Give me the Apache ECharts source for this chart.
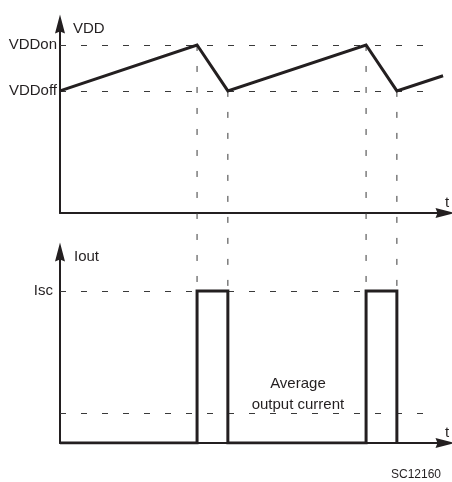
<!DOCTYPE html>
<html><head><meta charset="utf-8">
<script src="https://cdn.jsdelivr.net/npm/echarts@6/dist/echarts.min.js"></script>
<style>html,body{margin:0;padding:0;background:#fff}#c{width:452px;height:482px}</style>
</head><body><div id="c"></div>
<script>
// ---- data (time in arbitrary units 0..100, levels in arbitrary units 0..100) ----
const vddTime  = [0, 35.6, 43.6, 79.5, 87.5, 99.5];
const vddValue = [64.6, 88.9, 64.6, 88.9, 64.6, 72.6];
const vddTickValues = [64.6, 88.9];
const vddTickLabels = ['VDDoff', 'VDDon'];
const vddDashEnd = 94.8;

const ioutTime  = [0, 35.6, 35.6, 43.6, 43.6, 79.5, 79.5, 87.5, 87.5];
const ioutValue = [0, 0, 79.6, 79.6, 0, 0, 79.6, 79.6, 0];
const ioutTickValues = [79.6];
const ioutTickLabels = ['Isc'];
const avgCurrent = [15.7];
const avgLabel = ['Average', 'output current'];
const avgLabelAt = [61.8, 25.4];

const switchIdx = [1, 2, 3, 4]; // indices in vddTime where the switching happens

const INK = '#231f20';
const DASH = '#3a3a3a';
const FONT = 'Liberation Sans, Arial, sans-serif';

function pairs(xs, ys) { return xs.map((x, i) => [x, ys[i]]); }
function labelFor(vals, labels) {
  return function (v) {
    let best = 0, d = Infinity;
    vals.forEach((x, i) => { if (Math.abs(x - v) < d) { d = Math.abs(x - v); best = i; } });
    return labels[best];
  };
}

const chart = echarts.init(document.getElementById('c'), null, {renderer: 'canvas'});

const axisLineStyle = {color: INK, width: 2};
const arrowSymbol = 'path://M5 0 L10 19 L5 17 L0 19 Z';
const arrowSize = [10, 19];

const option = {
  animation: false,
  backgroundColor: '#fff',
  grid: [
    {left: 60, right: 7, top: 24, height: 189},
    {left: 60, right: 7, top: 252, height: 191}
  ],
  xAxis: [0, 1].map(g => ({
    type: 'value', gridIndex: g, min: 0, max: 100,
    name: 't', nameLocation: 'end', nameGap: 2,
    nameTextStyle: {color: INK, fontSize: 15, fontFamily: FONT, align: 'center', verticalAlign: 'bottom', padding: [0, 0, 3, 0]},
    axisLine: {show: true, lineStyle: axisLineStyle, symbol: ['none', arrowSymbol], symbolSize: arrowSize},
    axisTick: {show: false}, axisLabel: {show: false}, splitLine: {show: false}
  })),
  yAxis: [
    {
      type: 'value', gridIndex: 0, min: 0, max: 100,
      name: 'VDD', nameLocation: 'end', nameGap: -5,
      nameTextStyle: {color: INK, fontSize: 15, fontFamily: FONT, align: 'left', verticalAlign: 'middle', padding: [0, 0, 0, 13]},
      axisLine: {show: true, lineStyle: axisLineStyle, symbol: ['none', arrowSymbol], symbolSize: arrowSize},
      axisTick: {show: false}, splitLine: {show: false},
      axisLabel: {show: true, customValues: vddTickValues, formatter: labelFor(vddTickValues, vddTickLabels),
        color: INK, fontSize: 15, fontFamily: FONT, margin: 3}
    },
    {
      type: 'value', gridIndex: 1, min: 0, max: 100,
      name: 'Iout', nameLocation: 'end', nameGap: -5,
      nameTextStyle: {color: INK, fontSize: 15, fontFamily: FONT, align: 'left', verticalAlign: 'middle', padding: [0, 0, 0, 14]},
      axisLine: {show: true, lineStyle: axisLineStyle, symbol: ['none', arrowSymbol], symbolSize: arrowSize},
      axisTick: {show: false}, splitLine: {show: false},
      axisLabel: {show: true, customValues: ioutTickValues, formatter: labelFor(ioutTickValues, ioutTickLabels),
        color: INK, fontSize: 15, fontFamily: FONT, margin: 7}
    }
  ],
  series: [
    {
      name: 'VDD', type: 'line', xAxisIndex: 0, yAxisIndex: 0,
      data: pairs(vddTime, vddValue), showSymbol: false, symbol: 'none', z: 5,
      lineStyle: {color: INK, width: 3, join: 'miter'},
      markLine: {
        silent: true, symbol: 'none', label: {show: false}, z: 1,
        lineStyle: {color: DASH, width: 1, type: [6, 15], dashOffset: 0},
        data: vddTickValues.map(v => [{coord: [0, v]}, {coord: [vddDashEnd, v]}])
      }
    },
    {
      name: 'Iout', type: 'line', xAxisIndex: 1, yAxisIndex: 1,
      data: pairs(ioutTime, ioutValue), showSymbol: false, symbol: 'none', z: 5,
      lineStyle: {color: INK, width: 3, join: 'miter'},
      markLine: {
        silent: true, symbol: 'none', label: {show: false}, z: 1,
        lineStyle: {color: DASH, width: 1, type: [6, 15]},
        data: [
          [{coord: [0, ioutTickValues[0]]}, {coord: [vddTime[3], ioutTickValues[0]]}],
          [{coord: [0, avgCurrent[0]]}, {coord: [vddDashEnd, avgCurrent[0]]}]
        ]
      },
      markPoint: {
        silent: true, symbol: 'circle', symbolSize: 0,
        label: {show: true, position: 'inside', formatter: avgLabel.join('\n'),
          color: INK, fontSize: 15, fontFamily: FONT, lineHeight: 21, align: 'center', verticalAlign: 'middle'},
        data: [{coord: avgLabelAt}]
      }
    }
  ],
  graphic: [
    {type: 'text', right: 11, top: 469, silent: true,
      style: {text: 'SC12160', fill: INK, font: '12px ' + FONT}}
  ]
};
chart.setOption(option);

// vertical dashed guides from the VDD switching points down to the Isc level
const guides = switchIdx.map(i => {
  const t = vddTime[i];
  const p1 = chart.convertToPixel({gridIndex: 0}, [t, vddValue[i]]);
  const p2 = chart.convertToPixel({gridIndex: 1}, [t, ioutTickValues[0]]);
  return {type: 'line', silent: true, z: 1,
    shape: {x1: p1[0], y1: p1[1], x2: p2[0], y2: p2[1]},
    style: {stroke: DASH, lineWidth: 1, lineDash: [6, 15]}};
});
chart.setOption({graphic: option.graphic.concat(guides)});
</script>
</body></html>
